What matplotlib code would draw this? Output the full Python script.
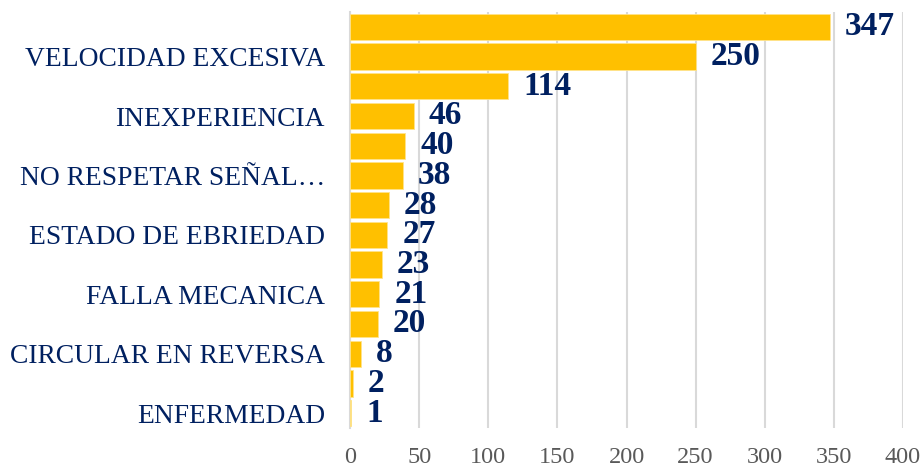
import matplotlib.pyplot as plt

# categories from top to bottom (only every other name is visible in the source)
categories = ['', 'VELOCIDAD EXCESIVA', '', 'INEXPERIENCIA', '', 'NO RESPETAR SEÑAL…',
              '', 'ESTADO DE EBRIEDAD', '', 'FALLA MECANICA', '', 'CIRCULAR EN REVERSA',
              '', 'ENFERMEDAD']
values = [347, 250, 114, 46, 40, 38, 28, 27, 23, 21, 20, 8, 2, 1]
xticks = [0, 50, 100, 150, 200, 250, 300, 350, 400]

navy = '#002060'
plt.rcParams['font.family'] = ['Liberation Serif', 'DejaVu Serif']

fig = plt.figure(figsize=(9.21, 4.71), dpi=100)
ax = fig.add_axes([350 / 921, 1 - 428 / 471, 553 / 921, 416 / 471])

pos = list(range(len(values)))
bars = ax.barh(pos, values, height=0.88, color='#FFC000', edgecolor='#FFE38A',
               linewidth=0.6, zorder=3)
ax.bar_label(bars, labels=[str(v) for v in values], padding=11, color=navy,
             fontsize=24, fontweight='bold')

ax.set_ylim(len(values) - 0.5, -0.5)
ax.set_xlim(0, 400)
ax.set_yticks(pos)
ax.set_yticklabels(categories, fontsize=19.8, color=navy)
ax.set_xticks(xticks)
ax.set_xticklabels([str(t) for t in xticks], fontsize=17.5, color='#595959')
ax.tick_params(axis='y', length=0, pad=18)
ax.tick_params(axis='x', length=0, pad=14)

ax.grid(axis='x', color='#D9D9D9', linewidth=1.5, zorder=0)
for s in ['top', 'right', 'bottom']:
    ax.spines[s].set_visible(False)
ax.spines['left'].set_color('#D9D9D9')
ax.spines['left'].set_linewidth(1.5)

fig.savefig('out.png', dpi=100)
